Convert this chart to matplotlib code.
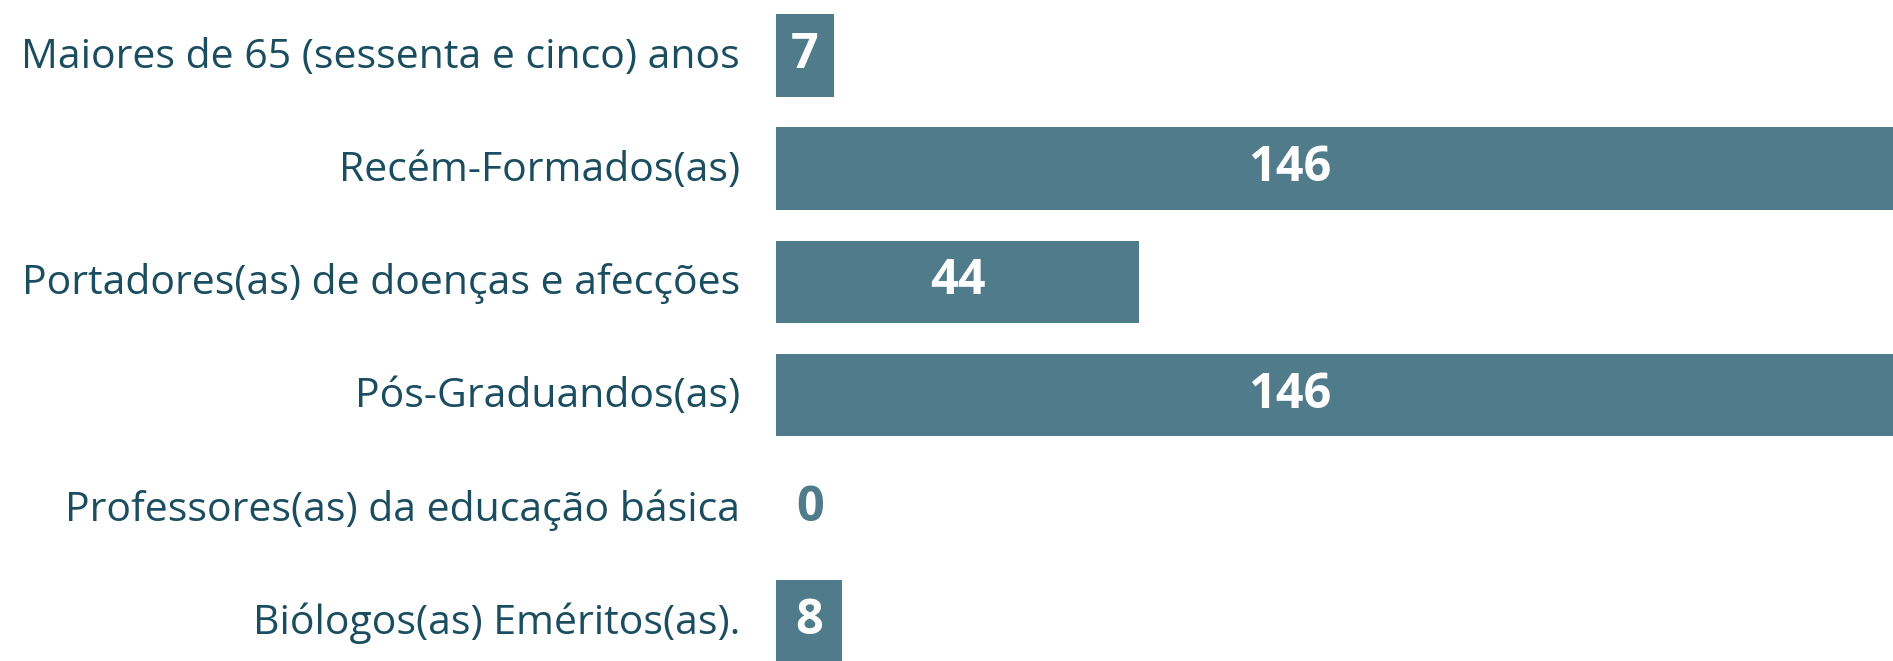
import matplotlib
matplotlib.use("Agg")
import matplotlib.pyplot as plt

categories = [
    "Maiores de 65 (sessenta e cinco) anos",
    "Recém-Formados(as)",
    "Portadores(as) de doenças e afecções",
    "Pós-Graduandos(as)",
    "Professores(as) da educação básica",
    "Biólogos(as) Eméritos(as).",
]
values = [7, 146, 44, 146, 0, 8]

BAR = "#4f7b8a"
TXT = "#1b4d60"

W, H = 1893, 661
fig = plt.figure(figsize=(W / 100, H / 100), dpi=100)
x0 = 776
ax = fig.add_axes([x0 / W, 0, 1 - x0 / W, 1])
xmax = (W - x0) / 8.25
ax.set_xlim(0, xmax)
step = 113.2
ax.set_ylim((H - 55.5) / step, -55.5 / step)

ys = list(range(len(categories)))
ax.barh(ys, values, height=0.73, color=BAR, edgecolor="none")

for y, v, c in zip(ys, values, categories):
    ax.annotate(c, xy=(0, y), xytext=(-36, -2), textcoords="offset pixels",
                ha="right", va="center", fontsize=29.5, color=TXT,
                family="Open Sans", annotation_clip=False)
    if v == 0:
        ax.annotate(str(v), xy=(0, y), xytext=(20, 0), textcoords="offset pixels",
                    ha="left", va="center", fontsize=35, color=BAR,
                    family="Open Sans", fontweight="bold")
    else:
        xc = min(v, xmax) / 2 if v <= xmax else xmax * 0.46
        ax.text(xc, y, str(v), ha="center", va="center", fontsize=35,
                color="white", family="Open Sans", fontweight="bold")

ax.axis("off")
fig.savefig("out.png", dpi=100, facecolor="white")
